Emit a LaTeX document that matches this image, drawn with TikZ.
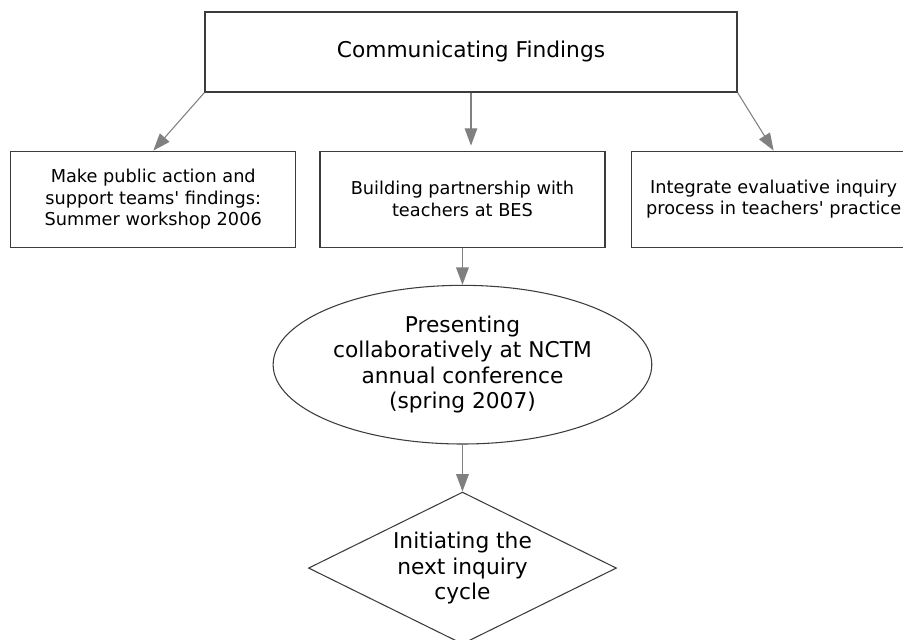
\documentclass[tikz,border=0pt]{standalone}
\usepackage{fontspec}
\setmainfont{DejaVu Sans}
\usepackage{tikz}
\usetikzlibrary{shapes.geometric, arrows.meta, positioning}
\usepackage{xcolor}
\definecolor{linegray}{RGB}{128,128,128}
\definecolor{framegray}{RGB}{60,60,60}

\begin{document}
\begin{tikzpicture}[
    box/.style={rectangle, draw=framegray, line width=0.9pt, minimum width=213.75pt, minimum height=72pt, align=center, inner sep=0pt, font=\fontsize{13.3pt}{16.3pt}\selectfont},
    head/.style={box, minimum width=399pt, minimum height=60pt, font=\fontsize{16.3pt}{19.5pt}\selectfont},
    oval/.style={ellipse, draw=framegray, line width=0.8pt, minimum width=284pt, minimum height=119pt, inner sep=0pt, align=center, font=\fontsize{16.3pt}{19.1pt}\selectfont},
    decision/.style={diamond, draw=framegray, line width=0.8pt, aspect=2, minimum width=231pt, minimum height=114pt, inner sep=0pt, align=center, font=\fontsize{16.3pt}{19.1pt}\selectfont},
    arrow/.style={-{Triangle[length=13pt, width=9.5pt]}, draw=linegray, line width=0.8pt}
]
\clip[use as bounding box] (-353.25pt,39pt) rectangle (324pt,-440.25pt);
\node[head] (top) at (0,0) {Communicating Findings};
\node[box, below=43.5pt of top, xshift=-6.4pt] (partner) {Building partnership with\\teachers at BES};
\node[box, left=17.25pt of partner] (public) {Make public action and\\support teams\textquotesingle{} findings:\\Summer workshop 2006};
\node[box, right=18.75pt of partner] (practice) {Integrate evaluative inquiry\\process in teachers\textquotesingle{} practice};
\node[oval, below=27.75pt of partner] (nctm) {Presenting\\collaboratively at NCTM\\annual conference\\(spring 2007)};
\node[decision, below=35.25pt of nctm] (cycle) {Initiating the\\next inquiry\\cycle};

\draw[arrow] (top.south west) -- (public.north);
\draw[arrow, shorten >=3.75pt] (top.south) -- (top.south |- partner.north);
\draw[arrow] (top.south east) -- (practice.north);
\draw[arrow] (partner) -- (nctm);
\draw[arrow] (nctm) -- (cycle);
\end{tikzpicture}
\end{document}
